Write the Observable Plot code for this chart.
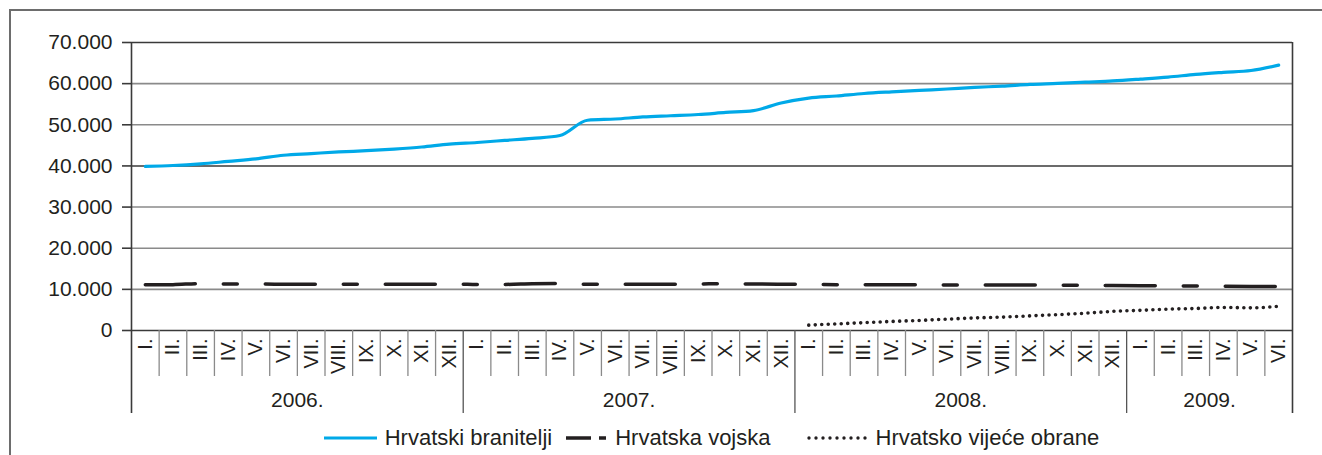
<!DOCTYPE html>
<html>
<head>
<meta charset="utf-8">
<script src="https://cdn.jsdelivr.net/npm/d3@7"></script>
<script src="https://cdn.jsdelivr.net/npm/@observablehq/plot@0.6"></script>
<style>
  html, body { margin: 0; padding: 0; background: #fff; overflow: hidden; }
  body { width: 1322px; height: 455px; position: relative; font-family: "Liberation Sans", Arial, Helvetica, sans-serif; color: #231f20; }
  #frame { position: absolute; left: 9px; top: 9px; width: 1340px; height: 480px; border-left: 2px solid #6d6d6d; border-top: 2px solid #6d6d6d; }
  #chart { position: absolute; left: 0; top: 0; }
  #legend { position: absolute; left: 131px; top: 421px; width: 1161px; height: 34px; display: flex; align-items: center; justify-content: center; font-size: 22px; white-space: nowrap; }
  #legend .item { display: flex; align-items: center; }
  #legend svg { display: block; }
</style>
</head>
<body>
<div id="frame"></div>
<div id="chart"></div>
<div id="legend"></div>
<script>
// ---- data ----
const years = ["2006.", "2007.", "2008.", "2009."];
const monthsPerYear = [12, 12, 12, 6];
const monthLabels = ["I.", "II.", "III.", "IV.", "V.", "VI.", "VII.", "VIII.", "IX.", "X.", "XI.", "XII."];
const seriesNames = ["Hrvatski branitelji", "Hrvatska vojska", "Hrvatsko vijeće obrane"];

const branitelji = [
  39900, 40100, 40500, 41100, 41700, 42600, 43000, 43400, 43700, 44100, 44600, 45300,
  45700, 46200, 46700, 47400, 51100, 51400, 51900, 52200, 52500, 53000, 53450, 55300,
  56500, 57000, 57600, 58000, 58350, 58700, 59100, 59400, 59800, 60050, 60350, 60650,
  61100, 61600, 62250, 62750, 63200, 64500
];
const vojska = [
  11100, 11150, 11400, 11300, 11300, 11250, 11250, 11250, 11250, 11250, 11250, 11250,
  11200, 11200, 11350, 11400, 11250, 11250, 11250, 11250, 11300, 11400, 11300, 11250,
  11200, 11150, 11150, 11100, 11100, 11050, 11050, 11050, 11050, 11000, 11000, 10950,
  10900, 10850, 10800, 10750, 10700, 10700
];
// Hrvatsko vijeće obrane: reported from 2008. I. onwards
const hvoStartYear = "2008.";
const hvo = [
  1300, 1600, 1900, 2200, 2450, 2750, 3050, 3250, 3550, 3850, 4200, 4650,
  4900, 5200, 5350, 5600, 5500, 5900
];
const yTicks = [0, 10000, 20000, 30000, 40000, 50000, 60000, 70000];

// ---- derived tables ----
const months = [];
years.forEach((y, yi) => {
  for (let m = 0; m < monthsPerYear[yi]; m++) months.push({year: y, label: monthLabels[m], i: months.length});
});
const n = months.length;
const yearInfo = [];
{
  let start = 0;
  years.forEach((y, yi) => {
    yearInfo.push({year: y, start, end: start + monthsPerYear[yi], mid: start + monthsPerYear[yi] / 2 - 0.5});
    start += monthsPerYear[yi];
  });
}
const hvoOffset = yearInfo.find(d => d.year === hvoStartYear).start;

const sB = branitelji.map((v, i) => ({i, v}));
const sV = vojska.map((v, i) => ({i, v}));
const sH = hvo.map((v, k) => ({i: k + hvoOffset, v}));

// ---- layout constants ----
const W = 1322, H = 420, mT = 42, mB = 90, mL = 131, mR = 30;
const yMax = 70000;
const pxToV = px => -px * yMax / (H - mT - mB); // pixels below zero line -> data units
const monthSepDepth = pxToV(46);
const yearSepDepth = pxToV(83);

const fmt = d => d3.format(",")(d).replace(/,/g, ".");

const monthSeps = d3.range(1, n).filter(k => !yearInfo.some(y => y.start === k)).map(k => k - 0.5);
const innerYearSeps = yearInfo.slice(1).map(y => y.start - 0.5);
const edgeSeps = [-0.5, n - 0.5];

const cyan = "#00a9e8";
const ink = "#231f20";

const chart = Plot.plot({
  width: W, height: H,
  marginTop: mT, marginBottom: mB, marginLeft: mL, marginRight: mR,
  style: {fontFamily: '"Liberation Sans", Arial, Helvetica, sans-serif', color: ink, background: "transparent", overflow: "visible"},
  x: {domain: [-0.5, n - 0.5], axis: null},
  y: {domain: [0, yMax], axis: null},
  marks: [
    Plot.ruleY(yTicks.filter(t => t !== 0 && t !== 40000 && t !== yMax), {stroke: "#8a8a8a", strokeWidth: 1.6}),
    Plot.ruleY(yTicks.filter(t => t === 0 || t === 40000 || t === yMax), {stroke: "#3a3a3a", strokeWidth: 1.6}),
    Plot.axisY({ticks: yTicks, label: null, tickSize: 9, tickPadding: 10, tickFormat: fmt, fontSize: 21, stroke: "#3a3a3a", strokeWidth: 1.6, fill: ink}),
    Plot.ruleX(monthSeps, {x: d => d, y1: 0, y2: monthSepDepth, stroke: "#8a8a8a", strokeWidth: 1.3}),
    Plot.ruleX(innerYearSeps, {x: d => d, y1: 0, y2: yearSepDepth, stroke: "#555", strokeWidth: 1.3}),
    Plot.ruleX(edgeSeps, {x: d => d, y1: yMax, y2: yearSepDepth, stroke: "#3a3a3a", strokeWidth: 1.6}),
    Plot.text(months, {x: "i", y: 0, text: "label", rotate: -90, textAnchor: "end", dy: 8, fontSize: 20, fill: ink}),
    Plot.text(yearInfo, {x: "mid", y: 0, text: "year", dy: 70, fontSize: 21, fill: ink}),
    Plot.lineY(sV, {x: "i", y: "v", stroke: ink, strokeWidth: 3.5, strokeDasharray: "50,28,14,28", curve: "monotone-x"}),
    Plot.lineY(sH, {x: "i", y: "v", stroke: ink, strokeWidth: 3.6, strokeDasharray: "0,6.5", strokeLinecap: "round", curve: "monotone-x"}),
    Plot.lineY(sB, {x: "i", y: "v", stroke: cyan, strokeWidth: 3.2, curve: "monotone-x"})
  ]
});
document.getElementById("chart").appendChild(chart);

// ---- legend (HTML, below the SVG) ----
const legend = document.getElementById("legend");
const swatches = [
  {w: 53, gapAfter: 8, marginLeft: 0, draw: `<line x1="0" y1="6" x2="53" y2="6" stroke="${cyan}" stroke-width="3"/>`},
  {w: 40, gapAfter: 9, marginLeft: 14, draw: `<line x1="0" y1="6" x2="40" y2="6" stroke="${ink}" stroke-width="3.5" stroke-dasharray="25,8,7"/>`},
  {w: 62, gapAfter: 7, marginLeft: 36, draw: `<line x1="2" y1="6" x2="60" y2="6" stroke="${ink}" stroke-width="3.4" stroke-dasharray="0,7" stroke-linecap="round"/>`}
];
seriesNames.forEach((name, k) => {
  const s = swatches[k];
  const item = document.createElement("div");
  item.className = "item";
  item.style.marginLeft = s.marginLeft + "px";
  item.innerHTML = `<svg width="${s.w}" height="12" style="margin-right:${s.gapAfter}px">${s.draw}</svg><span>${name}</span>`;
  legend.appendChild(item);
});
</script>
</body>
</html>
